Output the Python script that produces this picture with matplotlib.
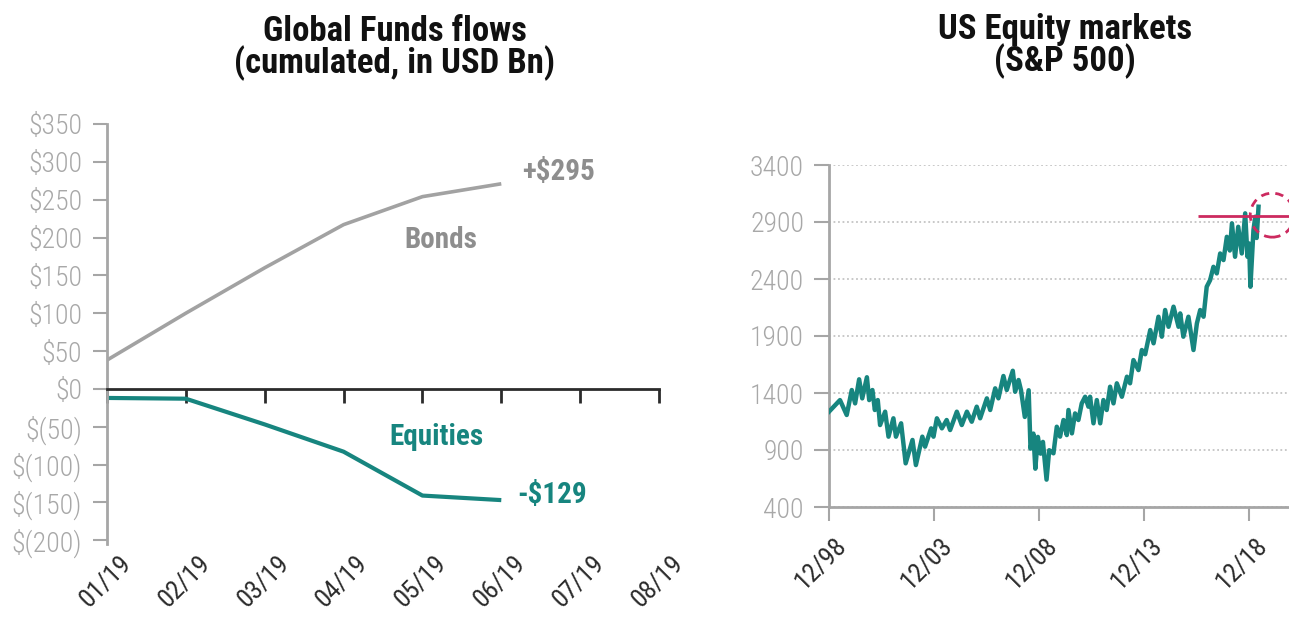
import numpy as np
import pandas as pd
import matplotlib
matplotlib.use("Agg")
import matplotlib.pyplot as plt
import matplotlib.dates as mdates
from matplotlib.patches import Ellipse
from matplotlib.ticker import FuncFormatter
from matplotlib import transforms

plt.rcParams['font.family'] = ['Roboto Condensed', 'IBM Plex Sans Condensed', 'DejaVu Sans']

# --- left chart: cumulated fund flows (USD bn) ---
months = ["01/19", "02/19", "03/19", "04/19", "05/19", "06/19", "07/19", "08/19"]
bonds = [38, 100, 160, 217, 254, 271]
equities = [-12, -13, -47, -83, -141, -147]
bonds_end_label = "+$295"
equities_end_label = "-$129"

# --- right chart: S&P 500 ---
sp_dates = [
    "1998-12-01", "1999-06-10", "1999-10-05", "2000-01-01", "2000-02-28", "2000-05-08",
    "2000-07-01", "2000-09-20", "2000-10-30", "2000-12-25", "2001-02-05", "2001-03-28",
    "2001-05-07", "2001-08-03", "2001-10-01", "2001-12-25", "2002-02-07", "2002-05-08",
    "2002-07-26", "2002-11-22", "2003-01-20", "2003-05-12", "2003-06-28", "2003-10-12",
    "2003-11-22", "2004-01-20", "2004-04-16", "2004-07-08", "2004-09-06", "2005-01-01",
    "2005-03-28", "2005-06-25", "2005-09-17", "2005-12-13", "2006-02-10", "2006-06-07",
    "2006-08-04", "2006-10-30", "2006-12-25", "2007-03-22", "2007-05-19", "2007-09-01",
    "2007-10-12", "2007-12-10", "2008-01-22", "2008-03-28", "2008-06-03", "2008-07-05",
    "2008-08-24", "2008-09-27", "2008-11-10", "2008-12-28", "2009-02-06", "2009-04-10",
    "2009-05-26", "2009-08-08", "2009-10-05", "2009-12-01", "2010-01-30", "2010-03-28",
    "2010-04-26", "2010-06-25", "2010-08-19", "2010-10-16", "2010-12-13", "2011-02-10",
    "2011-04-08", "2011-05-07", "2011-07-05", "2011-09-01", "2011-10-30", "2011-12-25",
    "2012-02-20", "2012-04-19", "2012-06-17", "2012-08-14", "2012-11-10", "2013-02-06",
    "2013-04-01", "2013-05-30", "2013-08-25", "2013-10-23", "2013-12-20", "2014-03-18",
    "2014-05-15", "2014-08-08", "2014-10-05", "2014-12-02", "2015-01-30", "2015-04-27",
    "2015-07-23", "2015-08-21", "2015-10-15", "2016-01-11", "2016-04-08", "2016-06-06",
    "2016-08-03", "2016-09-30", "2016-11-24", "2017-01-22", "2017-03-21", "2017-05-18",
    "2017-07-16", "2017-09-12", "2017-11-09", "2017-12-31", "2018-02-06", "2018-04-01",
    "2018-05-26", "2018-07-27", "2018-09-24", "2018-11-03", "2018-12-01", "2018-12-24",
    "2019-02-15", "2019-03-18", "2019-04-12", "2019-05-14",
]
sp_values = [
    1236, 1338, 1207, 1426, 1309, 1520,
    1353, 1538, 1338, 1426, 1251, 1338,
    1119, 1236, 1017, 1178, 1017, 1134,
    783, 988, 768, 1017, 929, 1090,
    1017, 1178, 1090, 1163, 1075, 1236,
    1119, 1236, 1148, 1280, 1178, 1353,
    1251, 1441, 1353, 1549, 1426, 1595,
    1411, 1514, 1424, 1190, 1424, 912,
    1044, 736, 1015, 868, 971, 640,
    898, 871, 1104, 1017, 1163, 1031,
    1251, 1046, 1221, 1163, 1309, 1367,
    1280, 1367, 1134, 1338, 1134, 1338,
    1251, 1455, 1309, 1485, 1367, 1543,
    1485, 1689, 1601, 1777, 1740, 1952,
    1836, 2069, 1894, 2128, 1981, 2157,
    1981, 2098, 1894, 2069, 1777, 2010,
    2128, 2069, 2332, 2390, 2507, 2449,
    2624, 2566, 2770, 2650, 2888, 2595,
    2858, 2624, 2976, 2595, 2712, 2332,
    2829, 2946, 2760, 3034,
]
sp_tick_dates = ["1998-12-01", "2003-12-01", "2008-12-01", "2013-12-01", "2018-12-01"]
sp_high = 2950

TEAL = "#17857f"
BOND_GREY = "#a2a2a2"
AXIS_GREY = "#a6a6a6"
LABEL_GREY = "#a8a8a8"
DARK = "#2b2b2b"
RED = "#cc2a5f"

W, H = 1289, 617
fig = plt.figure(figsize=(W / 100, H / 100), dpi=100)


def px_box(left, top, right, bottom):
    return [left / W, 1 - bottom / H, (right - left) / W, (bottom - top) / H]


# ---------------- left chart ----------------
ax1 = fig.add_axes(px_box(107, 124, 659, 544))
x = np.arange(len(months))
ax1.plot(x[:len(bonds)], bonds, color=BOND_GREY, lw=2.6, solid_capstyle='butt')
ax1.plot(x[:len(equities)], equities, color=TEAL, lw=3, solid_capstyle='butt')
ax1.set_xlim(0, len(months) - 1)
ax1.set_ylim(-205, 350)
ax1.set_yticks(range(-200, 351, 50))
ax1.yaxis.set_major_formatter(FuncFormatter(
    lambda v, p: f"${int(v)}" if v >= 0 else f"$({int(-v)})"))

for s in ['top', 'right']:
    ax1.spines[s].set_visible(False)
ax1.spines['left'].set_color(AXIS_GREY)
ax1.spines['left'].set_linewidth(2)
ax1.spines['bottom'].set_position(('data', 0))
ax1.spines['bottom'].set_color(DARK)
ax1.spines['bottom'].set_linewidth(2)

ax1.set_xticks(x)
ax1.set_xticklabels([])
ax1.tick_params(axis='x', direction='out', length=10, width=2, color=DARK)
ax1.tick_params(axis='y', length=10, width=1.5, color=AXIS_GREY,
                labelcolor=LABEL_GREY, labelsize=20, pad=8)
for lab in ax1.get_yticklabels():
    lab.set_fontweight('light')

sec = ax1.secondary_xaxis(0)
sec.set_xticks(x)
sec.set_xticklabels(months)
sec.spines['bottom'].set_visible(False)
sec.tick_params(length=0, labelsize=19, labelcolor=DARK, pad=5)
off1 = transforms.ScaledTranslation(0.12, 0, fig.dpi_scale_trans)
for lab in sec.get_xticklabels():
    lab.set_rotation(45)
    lab.set_ha('right')
    lab.set_va('top')
    lab.set_rotation_mode('anchor')
    lab.set_transform(lab.get_transform() + off1)

ax1.text(5.72, 287, bonds_end_label, color='#8e8e8e', fontsize=21,
         fontweight='bold', ha='center', va='center')
ax1.text(4.23, 197, "Bonds", color='#8e8e8e', fontsize=21,
         fontweight='bold', ha='center', va='center')
ax1.text(4.18, -63, "Equities", color=TEAL, fontsize=21,
         fontweight='bold', ha='center', va='center')
ax1.text(5.64, -140, equities_end_label, color=TEAL, fontsize=21,
         fontweight='bold', ha='center', va='center')

fig.text(395 / W, 1 - 48 / H, "Global Funds flows\n(cumulated, in USD Bn)",
         ha='center', va='center', fontsize=25, fontweight='bold',
         color='#111111', linespacing=0.88)

# ---------------- right chart ----------------
ax2 = fig.add_axes(px_box(829, 165, 1289, 507))
dates = pd.to_datetime(sp_dates)
ax2.plot(dates, sp_values, color=TEAL, lw=3.2, zorder=3)
ax2.set_ylim(400, 3400)
ax2.set_yticks(range(400, 3401, 500))
ax2.set_xlim(pd.Timestamp("1998-12-01"), pd.Timestamp("2020-10-25"))
ax2.set_xticks(pd.to_datetime(sp_tick_dates))
ax2.xaxis.set_major_formatter(mdates.DateFormatter("%m/%y"))
ax2.yaxis.grid(True, linestyle=(0, (1, 1.5)), color='#c4c4c4', lw=1.3)
ax2.set_axisbelow(True)

for s in ['top', 'right']:
    ax2.spines[s].set_visible(False)
for s in ['left', 'bottom']:
    ax2.spines[s].set_color(AXIS_GREY)
    ax2.spines[s].set_linewidth(2)
ax2.tick_params(axis='y', length=11, width=1.5, color=AXIS_GREY,
                labelcolor=LABEL_GREY, labelsize=20, pad=7)
for lab in ax2.get_yticklabels():
    lab.set_fontweight('light')
ax2.tick_params(axis='x', length=10, width=1.5, color=AXIS_GREY,
                labelcolor=DARK, labelsize=19, pad=9)
off2 = transforms.ScaledTranslation(0.06, 0, fig.dpi_scale_trans)
for lab in ax2.get_xticklabels():
    lab.set_rotation(45)
    lab.set_ha('right')
    lab.set_va('top')
    lab.set_rotation_mode('anchor')
    lab.set_transform(lab.get_transform() + off2)

ax2.hlines(sp_high, pd.Timestamp("2016-07-01"), pd.Timestamp("2020-10-25"),
           color=RED, lw=2, zorder=4, clip_on=False)
ax2.add_patch(Ellipse((mdates.date2num(pd.Timestamp("2020-01-08")), 2960),
                      width=766, height=386, fill=False, ec=RED, lw=2,
                      ls=(0, (3, 2.2)), zorder=4, clip_on=False))

fig.text(1065 / W, 1 - 46 / H, "US Equity markets\n(S&P 500)",
         ha='center', va='center', fontsize=25, fontweight='bold',
         color='#111111', linespacing=0.88)

fig.savefig("out.png", dpi=100, facecolor='white')
